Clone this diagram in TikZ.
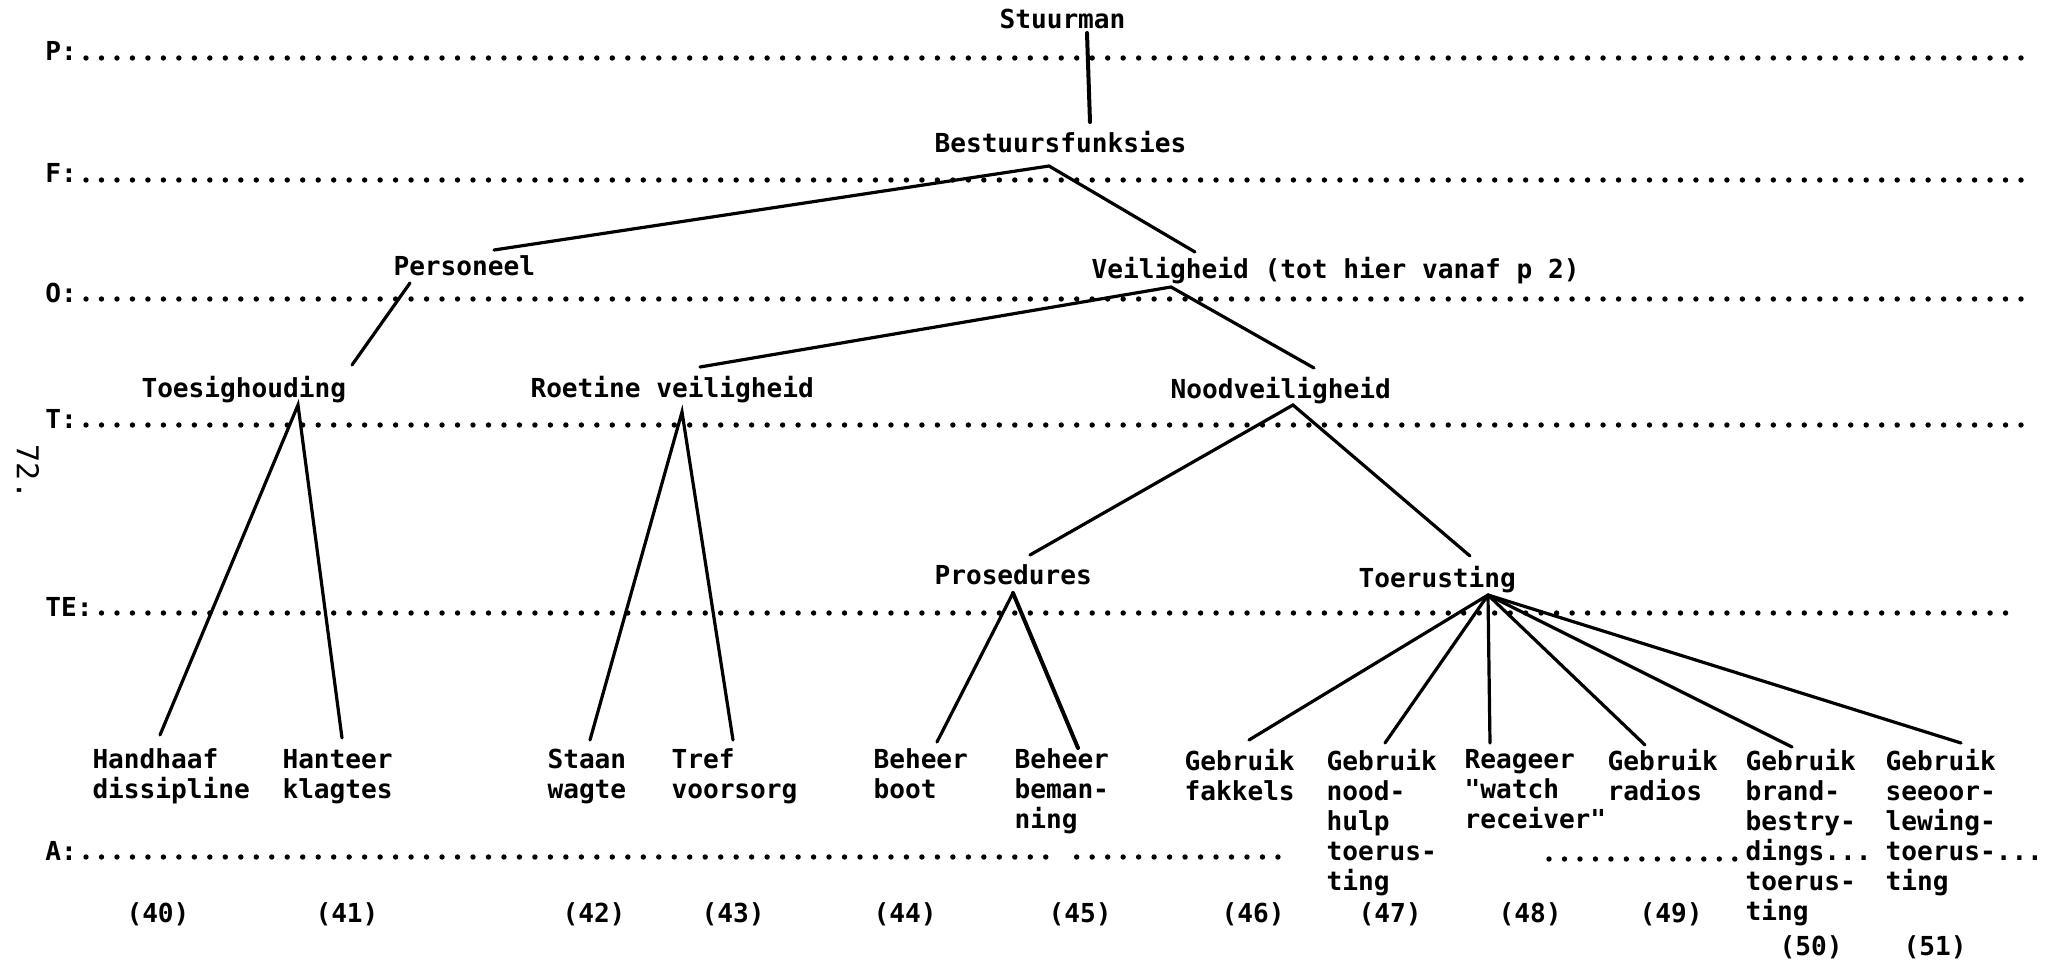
\documentclass[tikz,border=0pt]{standalone}
\usepackage{fontspec}
\newfontfamily\typewr{DejaVu Sans Mono}
\begin{document}
\begin{tikzpicture}[x=0.5pt,y=-0.5pt,
  txt/.style={inner sep=0pt, outer sep=0pt, align=left, anchor=north west,
    font=\fontsize{13.08}{15}\selectfont\typewr\bfseries,
    execute at begin node=\strut},
  num/.style={txt, anchor=north},
  dotrow/.style={line width=2.7pt, line cap=round, dash pattern=on 0pt off 7.74pt},
  branch/.style={line width=1.6pt, line cap=round},
  heavy/.style={branch, line width=2pt},
]
\fill[white] (0,0) rectangle (2053,963);
\useasboundingbox (0,0) rectangle (2053,963);

% level rows
\node[txt] (rowP)  at (45.5,40)  {P:};
\node[txt] (rowF)  at (45.5,162) {F:};
\node[txt] (rowO)  at (45.5,281) {O:};
\node[txt] (rowT)  at (45.5,407) {T:};
\node[txt] (rowTE) at (45.5,595) {TE:};
\node[txt] (rowA)  at (45.5,839) {A:};
\draw[dotrow] (86,58)  -- (2021,58);
\draw[dotrow] (86,180) -- (2021,180);
\draw[dotrow] (86,299) -- (2021,299);
\draw[dotrow] (86,425) -- (2021,425);
\draw[dotrow] (101.5,613) -- (2021,613);
\draw[dotrow] (86,857) -- (1045.8,857);
\draw[dotrow] (1076.7,857) -- (1293.4,857);
\draw[dotrow] (1549,859) -- (1734.8,859);

% page number
\node[inner sep=0pt, rotate=-90, font=\fontsize{15}{17}\selectfont\typewr] (page) at (28,472) {72.};

% tree nodes
\node[txt] (stu)  at (999.5,8)    {Stuurman};
\node[txt] (best) at (934.5,131)  {Bestuursfunksies};
\node[txt] (pers) at (393.5,254)  {Personeel};
\node[txt] (veil) at (1091.5,257) {Veiligheid (tot hier vanaf p 2)};
\node[txt] (toes) at (141.5,376)  {Toesighouding};
\node[txt] (roet) at (530.5,376)  {Roetine veiligheid};
\node[txt] (nood) at (1170.5,377) {Noodveiligheid};
\node[txt] (pros) at (934.5,563)  {Prosedures};
\node[txt] (toer) at (1358.5,566) {Toerusting};

\node[txt] (l40) at (92.5,749)   {Handhaaf\\dissipline};
\node[txt] (l41) at (282.5,749)  {Hanteer\\klagtes};
\node[txt] (l42) at (547.5,749)  {Staan\\wagte};
\node[txt] (l43) at (671.5,749)  {Tref\\voorsorg};
\node[txt] (l44) at (873.5,749)  {Beheer\\boot};
\node[txt] (l45) at (1014.5,749) {Beheer\\beman-\\ning};
\node[txt] (l46) at (1184.5,749) {Gebruik\\fakkels};
\node[txt] (l47) at (1326.5,749) {Gebruik\\nood-\\hulp\\toerus-\\ting};
\node[txt] (l48) at (1464.5,749) {Reageer\\"watch\\receiver"};
\node[txt] (l49) at (1607.5,749) {Gebruik\\radios};
\node[txt] (l50) at (1745.5,749) {Gebruik\\brand-\\bestry-\\dings...\\toerus-\\ting};
\node[txt] (l51) at (1885.5,749) {Gebruik\\seeoor-\\lewing-\\toerus-...\\ting};

% item numbers
\node[num] (n40) at (158,901)  {(40)};
\node[num] (n41) at (347,901)  {(41)};
\node[num] (n42) at (594,901)  {(42)};
\node[num] (n43) at (733,901)  {(43)};
\node[num] (n44) at (905,901)  {(44)};
\node[num] (n45) at (1080,901) {(45)};
\node[num] (n46) at (1253,901) {(46)};
\node[num] (n47) at (1390,901) {(47)};
\node[num] (n48) at (1530,901) {(48)};
\node[num] (n49) at (1671,901) {(49)};
\node[num] (n50) at (1811,934) {(50)};
\node[num] (n51) at (1935,934) {(51)};

% branches
\draw[heavy]  ([shift={(87.5,25)}]stu.north west) -- ([shift={(155.5,-9)}]best.north west);
\draw[branch] ([shift={(100.5,-4)}]pers.north west) -- ([shift={(114.5,35)}]best.north west)
              -- ([shift={(103.5,-5)}]veil.north west);
\draw[branch] ([shift={(16.5,29)}]pers.north west) -- ([shift={(210.5,-11)}]toes.north west);
\draw[branch] ([shift={(169.5,-9)}]roet.north west) -- ([shift={(79.5,30)}]veil.north west)
              -- ([shift={(143.5,-9)}]nood.north west);
\draw[branch] ([shift={(67.5,-14)}]l40.north west) -- ([shift={(156.5,29)}]toes.north west)
              -- ([shift={(59.5,-11)}]l41.north west);
\draw[branch] ([shift={(42.5,-9)}]l42.north west) -- ([shift={(151.5,36)}]roet.north west)
              -- ([shift={(61.5,-9)}]l43.north west);
\draw[branch] ([shift={(95.5,-8)}]pros.north west) -- ([shift={(122.5,28)}]nood.north west)
              -- ([shift={(111.5,-10)}]toer.north west);
\draw[branch] ([shift={(63.5,-7)}]l44.north west) -- ([shift={(78.5,30)}]pros.north west);
\draw[heavy]  ([shift={(78.5,30)}]pros.north west) -- ([shift={(63.5,-1)}]l45.north west);
\foreach \lab/\dx/\dy in {l46/64.5/-9, l47/58.5/-6, l48/25.5/-6, l49/37.5/-4, l50/46.5/-2, l51/75.5/-6}
  \draw[branch] ([shift={(129.5,29)}]toer.north west) -- ([shift={(\dx,\dy)}]\lab.north west);
\end{tikzpicture}
\end{document}
